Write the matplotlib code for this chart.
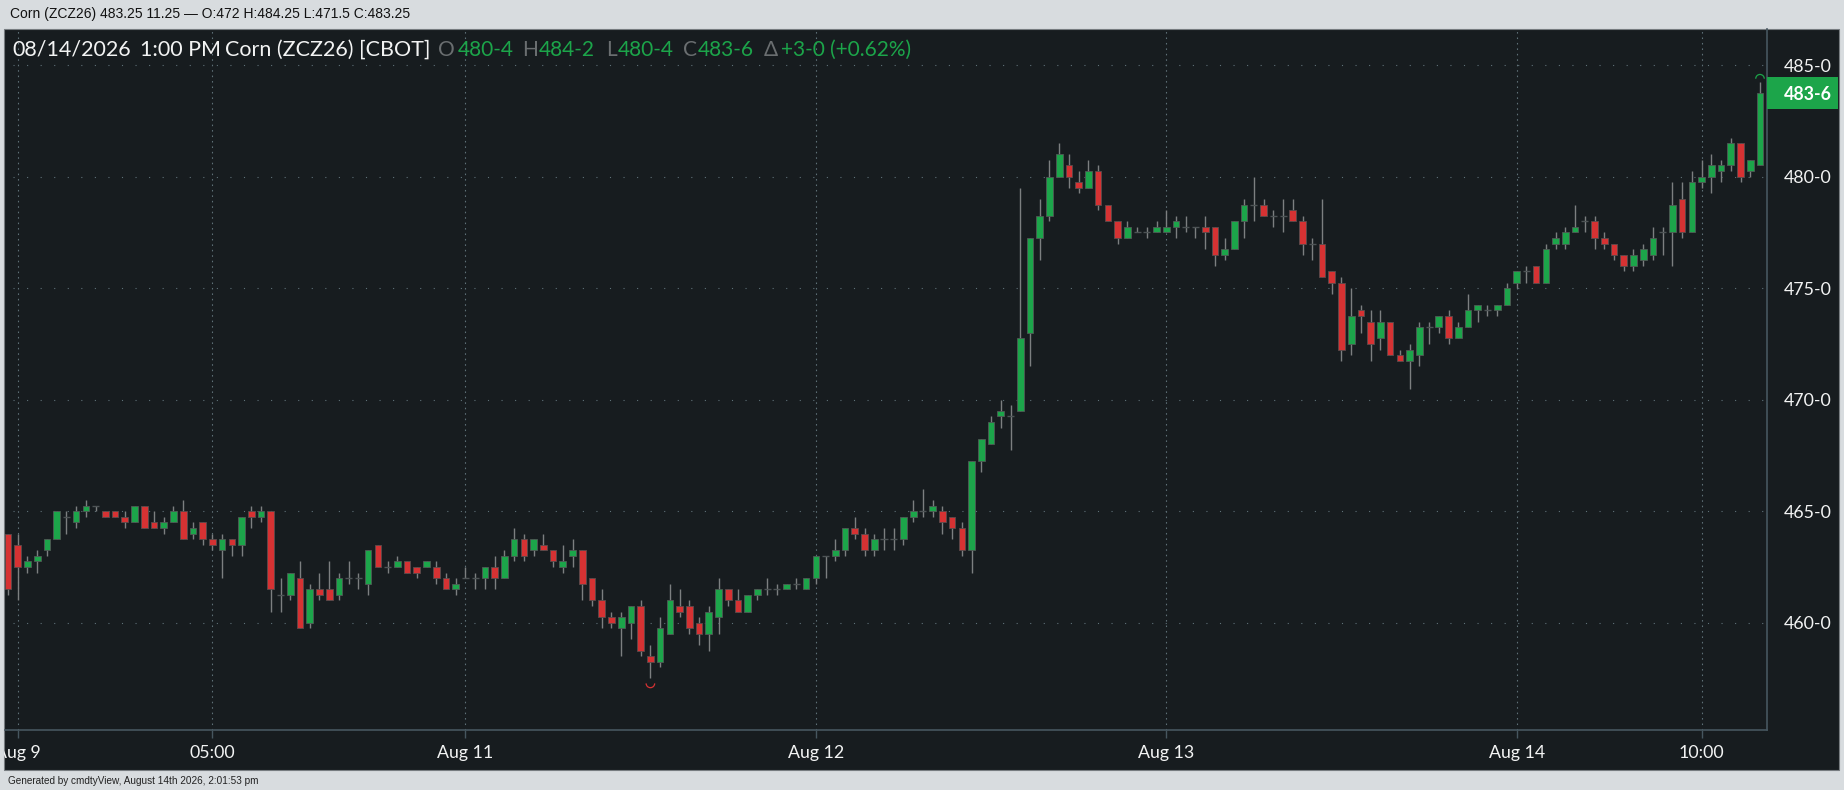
import matplotlib
matplotlib.use("Agg")
import numpy as np
import matplotlib.pyplot as plt
from matplotlib.patches import Rectangle
from matplotlib.path import Path

# candles (one bar = 40 min, prices in cents/bu)
opens = [464, 463.5, 462.5, 462.75, 463.25, 463.75, 464.75, 464.5, 465, 465.25,
         465, 465, 464.75, 464.5, 465.25, 464.5, 464.25, 464.5, 465, 464,
         464.5, 463.75, 463.25, 463.75, 463.5, 465, 464.75, 465, 461.25, 461.25,
         462, 460, 461.5, 461.5, 461.25, 462, 462, 461.75, 463.5, 462.5,
         462.5, 462.75, 462.5, 462.5, 462.5, 462, 461.5, 462, 462, 462,
         462.5, 462, 463, 463.75, 463.25, 463.5, 463.25, 462.5, 463, 463.25,
         462, 461, 460.25, 459.75, 460, 460.75, 458.5, 458.25, 459.5, 460.75,
         460.75, 460, 459.5, 460.25, 461.5, 461, 460.5, 461.25, 461.5, 461.5,
         461.5, 461.75, 461.5, 462, 463, 463, 463.25, 464.25, 464, 463.25,
         463.75, 463.75, 463.75, 464.75, 465, 465, 465, 464.75, 464.25, 463.25,
         467.25, 468, 469.25, 469.25, 469.5, 473, 477.25, 478.25, 480, 480.5,
         479.75, 479.5, 480.25, 478.75, 478, 477.25, 477.5, 477.5, 477.5, 477.5,
         477.75, 477.75, 477.75, 477.75, 477.75, 476.5, 476.75, 478, 478.75, 478.75,
         478.25, 478.25, 478.5, 478, 477, 477, 475.75, 475.25, 472.5, 474,
         473.5, 472.75, 473.5, 472, 471.75, 472, 473.25, 473.25, 473.75, 472.75,
         473.25, 474, 474, 474, 474.25, 475.25, 475.75, 476, 475.25, 477,
         477, 477.5, 478, 478, 477.25, 477, 476.5, 476, 476.25, 476.5,
         477.5, 477.5, 479, 477.5, 479.75, 480, 480.25, 480.5, 481.5, 480.25,
         480.5]
highs = [464, 464, 463, 463.25, 463.75, 465, 465, 465.25, 465.5, 465.25,
         465, 465, 465, 465.25, 465.25, 465, 464.75, 465.25, 465.5, 464.5,
         464.5, 464, 464, 463.75, 464.75, 465.25, 465.25, 465, 462, 462.25,
         462.75, 461.75, 462.25, 462.75, 462.25, 462.75, 462.25, 463.25, 463.5, 462.75,
         463, 462.75, 462.5, 462.75, 462.75, 462.25, 462, 462.5, 462.25, 462.5,
         463, 463.25, 464.25, 464, 463.75, 464, 463.25, 463.5, 463.75, 463.25,
         462, 461.5, 460.5, 460.5, 460.75, 461, 459, 460.25, 461.75, 461.5,
         461, 460.25, 460.75, 462, 461.5, 461.5, 461.25, 461.5, 462, 461.75,
         461.75, 462, 462, 463, 463, 463.75, 464.25, 464.75, 464.25, 464,
         464.25, 464.25, 464.75, 465.5, 466, 465.5, 465.25, 464.75, 464.5, 467.25,
         468.25, 469.25, 470, 469.75, 479.5, 477.25, 479, 480.75, 481.5, 481,
         480.25, 480.75, 480.5, 478.75, 478, 478, 477.75, 477.75, 478, 478.5,
         478.25, 478.25, 477.75, 478.25, 477.75, 477.25, 478, 479, 480, 479,
         478.5, 479, 479, 478.25, 477.25, 479, 475.75, 475.5, 475, 474.25,
         474, 474, 473.5, 472.25, 472.5, 473.5, 473.5, 473.75, 474, 473.5,
         474.75, 474.25, 474.25, 474.25, 475.25, 475.75, 476, 476, 477, 477.5,
         477.75, 478.75, 478.25, 478.25, 477.5, 477, 476.5, 476.75, 477, 477.75,
         477.75, 479.75, 479.75, 480.25, 480.75, 481, 480.75, 481.75, 481.5, 480.75,
         484.25]
lows = [461.25, 461, 462.25, 462.25, 463, 463.75, 464, 464.25, 464.75, 465,
        464.75, 464.75, 464.25, 464.5, 464.25, 464.25, 464, 464.5, 463.75, 463.75,
        463.5, 463.25, 462, 463, 463, 464.25, 464.5, 460.5, 460.5, 461,
        459.75, 459.75, 461, 461, 461, 461.75, 461.5, 461.25, 462.5, 462.25,
        462.5, 462.25, 462, 462.5, 461.75, 461.5, 461.25, 462, 461.5, 461.5,
        461.5, 462, 462.75, 462.75, 463, 463.25, 462.5, 462.25, 462.5, 461,
        460.75, 459.75, 459.75, 458.5, 459.25, 458.5, 457.5, 458, 459.5, 460.25,
        459.5, 459, 458.75, 459.5, 460.75, 460.5, 460.5, 461, 461.25, 461.25,
        461.5, 461.5, 461.5, 461.75, 462, 462.75, 463, 463.75, 463, 463,
        463.25, 463.25, 463.5, 464.5, 464.75, 464.75, 464, 463.75, 463, 462.25,
        466.75, 468, 468.75, 467.75, 469.5, 471.5, 476.25, 478, 480, 479.5,
        479.25, 479.5, 478.5, 478, 477, 477.25, 477.5, 477.25, 477.5, 477.5,
        477.25, 477.5, 477.25, 476.75, 476, 476.25, 476.75, 477.25, 478, 478.25,
        477.75, 477.5, 478, 476.5, 476.25, 475.5, 474.75, 471.75, 472, 473,
        471.75, 472.25, 472, 471.75, 470.5, 471.5, 472.5, 473, 472.5, 472.75,
        473.25, 473.5, 473.75, 473.75, 474.25, 475, 475.25, 475.25, 475.25, 476.75,
        476.75, 477.5, 477.5, 476.75, 476.75, 476.25, 475.75, 475.75, 476, 476.25,
        476.5, 476, 477.25, 477.5, 479.5, 479.25, 479.75, 480.25, 479.75, 480,
        480.5]
closes = [461.5, 462.5, 462.75, 463, 463.75, 465, 464.75, 465, 465.25, 465.25,
          464.75, 464.75, 464.5, 465.25, 464.25, 464.25, 464.5, 465, 463.75, 464.25,
          463.75, 463.5, 463.75, 463.5, 464.75, 464.75, 465, 461.5, 461.25, 462.25,
          459.75, 461.5, 461.25, 461, 462, 462, 462, 463.25, 462.5, 462.5,
          462.75, 462.25, 462.25, 462.75, 462, 461.5, 461.75, 462, 462, 462.5,
          462, 463, 463.75, 463, 463.75, 463.25, 462.75, 462.75, 463.25, 461.75,
          461, 460.25, 460, 460.25, 460.75, 458.75, 458.25, 459.75, 461, 460.5,
          459.75, 459.5, 460.5, 461.5, 461, 460.5, 461.25, 461.5, 461.5, 461.5,
          461.75, 461.75, 462, 463, 463, 463.25, 464.25, 464, 463.25, 463.75,
          463.75, 463.75, 464.75, 465, 465, 465.25, 464.5, 464.25, 463.25, 467.25,
          468.25, 469, 469.5, 469.25, 472.75, 477.25, 478.25, 480, 481, 480,
          479.5, 480.25, 478.75, 478, 477.25, 477.75, 477.5, 477.5, 477.75, 477.75,
          478, 477.75, 477.75, 477.5, 476.5, 476.75, 478, 478.75, 478.75, 478.25,
          478.25, 478.25, 478, 477, 477, 475.5, 475.25, 472.25, 473.75, 473.75,
          472.5, 473.5, 472, 471.75, 472.25, 473.25, 473.25, 473.75, 472.75, 473.25,
          474, 474.25, 474, 474.25, 475, 475.75, 475.75, 475.25, 476.75, 477.25,
          477.5, 477.75, 478, 477.25, 477, 476.5, 476, 476.5, 476.75, 477.25,
          477.5, 478.75, 477.5, 479.75, 480, 480.5, 480.5, 481.5, 480, 480.75,
          483.75]

xtick_pos = [1, 21, 47, 83, 119, 155, 174]
xtick_labels = ["Aug 9", "05:00", "Aug 11", "Aug 12", "Aug 13", "Aug 14", "10:00"]
ytick_pos = [460, 465, 470, 475, 480, 485]
ytick_labels = ["460-0", "465-0", "470-0", "475-0", "480-0", "485-0"]

header = "Corn (ZCZ26) 483.25 11.25 \u2014 O:472 H:484.25 L:471.5 C:483.25"
footer = "Generated by cmdtyView, August 14th 2026, 2:01:53 pm"
last_label = "483-6"
legend_bits = [("08/14/2026", 12, "white"), ("1:00 PM", 140, "white"),
               ("Corn (ZCZ26) [CBOT]", 225, "white"),
               ("O", 438, "grey"), ("480-4", 458, "green"),
               ("H", 522, "grey"), ("484-2", 539, "green"),
               ("L", 606, "grey"), ("480-4", 618, "green"),
               ("C", 683, "grey"), ("483-6", 698, "green"),
               ("\u0394", 764, "grey"), ("+3-0", 781, "green"),
               ("(+0.62%)", 830, "green")]

W, H = 1844, 790
BG = "#d8dcdf"
PANEL = "#171c1f"
GREEN = "#1ca54a"
RED = "#d63233"
WICK = "#7c7f80"
LINE = "#46565f"
DOT = "#5f7178"
TEXT = "#f2f3f3"
colors = {"white": TEXT, "grey": "#6a6e70", "green": GREEN}

fig = plt.figure(figsize=(W / 100, H / 100), dpi=100, facecolor=BG)

# dark panel behind the chart
panel = Rectangle((4 / W, 1 - 770 / H), 1835 / W, 741 / H, transform=fig.transFigure,
                  facecolor=PANEL, edgecolor="#777c80", lw=0.8, zorder=-1)
fig.patches.append(panel)

# axes box in pixels: x 4.5..1767, y 29..730
ax = fig.add_axes([4.5 / W, 1 - 730 / H, 1762.5 / W, 701 / H])
ax.patch.set_visible(False)

opens = np.array(opens)
highs = np.array(highs)
lows = np.array(lows)
closes = np.array(closes)
x = np.arange(len(opens))
up = closes > opens
down = closes < opens
flat = closes == opens

ax.vlines(x, lows, highs, color=WICK, lw=1.0, zorder=2)
ax.hlines(closes[flat], x[flat] - 0.36, x[flat] + 0.36, color="#4d5355", lw=1.0, zorder=2)
ax.bar(x[up], (closes - opens)[up], bottom=opens[up], width=0.68, color=GREEN,
       edgecolor="#4f5a55", lw=0.6, zorder=3)
ax.bar(x[down], (opens - closes)[down], bottom=closes[down], width=0.68, color=RED,
       edgecolor="#5a4c4c", lw=0.6, zorder=3)

# little arcs at the extreme low and high
arc_up = Path.arc(0, 180)
arc_down = Path.arc(180, 360)
lo = lows.argmin()
hi = highs.argmax()
ax.scatter([lo], [lows[lo] - 0.22], marker=arc_down, s=38, facecolors="none",
           edgecolors=RED, lw=0.9, zorder=3)
ax.scatter([hi], [highs[hi] + 0.14], marker=arc_up, s=38, facecolors="none",
           edgecolors=GREEN, lw=0.9, zorder=3)

ax.set_xlim(-0.36, 180.72)
ax.set_ylim(455.19, 486.62)
ax.set_xticks(xtick_pos, xtick_labels)
ax.set_yticks(ytick_pos, ytick_labels)
ax.yaxis.tick_right()
ax.set_axisbelow(True)
ax.grid(axis="y", color=DOT, lw=0.8, linestyle=(5, (1, 11.2)))
ax.grid(axis="x", color=DOT, lw=0.8, linestyle=(0, (1.4, 3.5)))

for side in ["left", "top"]:
    ax.spines[side].set_visible(False)
for side in ["right", "bottom"]:
    ax.spines[side].set_color(LINE)
    ax.spines[side].set_linewidth(1.2)
ax.tick_params(axis="x", length=5.5, width=1.0, color=LINE, pad=5.6, labelsize=12.8,
               labelcolor=TEXT)
ax.tick_params(axis="y", length=0, pad=12, labelsize=12.8, labelcolor=TEXT)
for lab in ax.get_xticklabels() + ax.get_yticklabels():
    lab.set_family("Lato")
# first date label is cut by the panel edge
first = ax.get_xticklabels()[0]
first.set_clip_path(panel)

# last price tag
tag = Rectangle((1.0, closes[-1] - 0.7), 71 / 1762.5, 1.4, transform=ax.get_yaxis_transform(),
                facecolor=GREEN, edgecolor="none", clip_on=False, zorder=4)
ax.add_patch(tag)
ax.text(1 + 65 / 1762.5, closes[-1], last_label, transform=ax.get_yaxis_transform(), ha="right",
        va="center_baseline", color="white", fontsize=12.8, fontweight="bold", family="Lato", zorder=5)

# header row, footer and OHLC row
fig.text(10 / W, 1 - 12.5 / H, header, family="Liberation Sans", fontsize=10, color="#111111",
         ha="left", va="center_baseline")
fig.text(8 / W, 1 - 780.5 / H, footer, family="Liberation Sans", fontsize=7.2, color="#222222",
         ha="left", va="center_baseline")
for txt, px, col in legend_bits:
    size = 15.5 if col == "white" else 15
    fig.text(px / W, 1 - 48 / H, txt, family="Lato", fontsize=size, color=colors[col],
             ha="left", va="center_baseline")

fig.savefig("out.png", dpi=100, facecolor=BG)
